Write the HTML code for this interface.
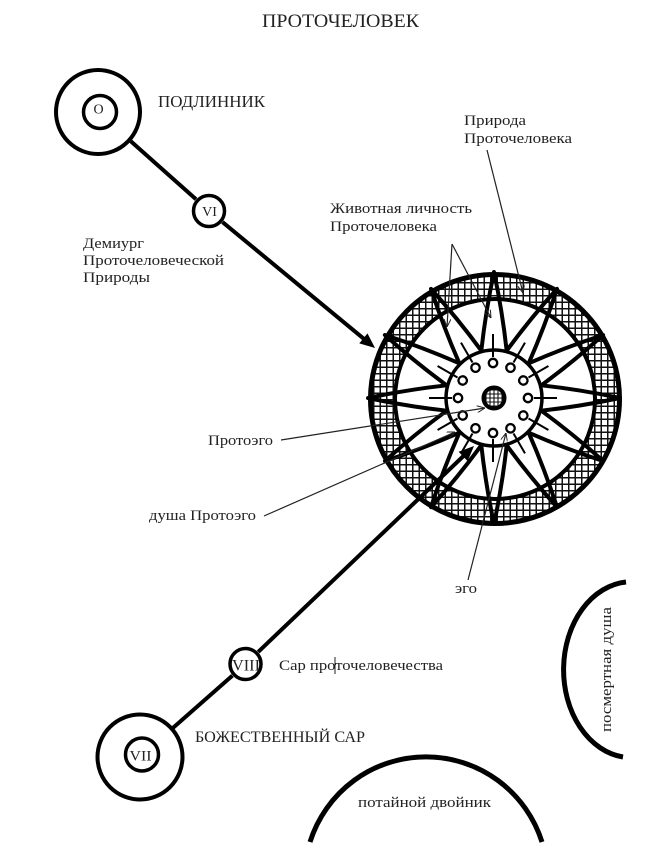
<!DOCTYPE html>
<html><head><meta charset="utf-8">
<style>html,body{margin:0;padding:0;background:#fff;}svg{display:block}</style>
</head><body>
<svg width="659" height="855" viewBox="0 0 659 855" xmlns="http://www.w3.org/2000/svg" xmlns:xlink="http://www.w3.org/1999/xlink" font-family="'Liberation Serif','DejaVu Serif',serif">
<defs>
  <pattern id="g" width="6.5" height="6.5" patternUnits="userSpaceOnUse">
    <rect width="6.5" height="6.5" fill="#fff"/>
    <path d="M0,3.25 H6.5 M3.25,0 V6.5" stroke="#111" stroke-width="1.5"/>
  </pattern>
  <pattern id="g2" width="4" height="4" patternUnits="userSpaceOnUse">
    <rect width="4" height="4" fill="#fff"/>
    <path d="M0,2 H4 M2,0 V4" stroke="#111" stroke-width="1.1"/>
  </pattern>
  <marker id="a" viewBox="0 0 8 7" refX="8" refY="3.5" markerWidth="8" markerHeight="7" markerUnits="userSpaceOnUse" orient="auto">
    <path d="M0,0 L8,3.5 L0,7" fill="none" stroke="#222" stroke-width="1"/>
  </marker>
  <path id="sp" d="M47.33,-12.68 Q87,-8.3 126,0 Q87,8.3 47.33,12.68" fill="none" stroke="#000" stroke-width="4" stroke-linejoin="round"/>
  <g id="dot">
    <line x1="41" y1="0" x2="64" y2="0" stroke="#000" stroke-width="2"/>
    <circle cx="35" cy="0" r="4.2" fill="#fff" stroke="#000" stroke-width="2.3"/>
  </g>
</defs>

<rect width="659" height="855" fill="#fff"/>

<!-- Title -->
<text x="262" y="27" font-size="19" fill="#222" textLength="157" lengthAdjust="spacingAndGlyphs">ПРОТОЧЕЛОВЕК</text>

<!-- O circle -->
<circle cx="98" cy="112" r="42" fill="none" stroke="#000" stroke-width="4"/>
<circle cx="100" cy="112" r="16.5" fill="none" stroke="#000" stroke-width="3.5"/>
<text x="98.5" y="113.5" font-size="14" fill="#222" text-anchor="middle">O</text>
<text x="158" y="107" font-size="16.5" fill="#222" textLength="107" lengthAdjust="spacingAndGlyphs">ПОДЛИННИК</text>

<!-- connectors upper -->
<line x1="130.8" y1="141.3" x2="196" y2="199.3" stroke="#000" stroke-width="4"/>
<circle cx="209" cy="211" r="15.5" fill="none" stroke="#000" stroke-width="3.5"/>
<text x="209.5" y="216" font-size="14" fill="#222" text-anchor="middle">VI</text>
<line x1="222.5" y1="222.1" x2="364" y2="338.9" stroke="#000" stroke-width="4"/>

<!-- Demiurg text -->
<text x="83" y="248" font-size="14.5" fill="#222" textLength="61" lengthAdjust="spacingAndGlyphs">Демиург</text>
<text x="83" y="265" font-size="14.5" fill="#222" textLength="141" lengthAdjust="spacingAndGlyphs">Проточеловеческой</text>
<text x="83" y="282" font-size="14.5" fill="#222" textLength="67" lengthAdjust="spacingAndGlyphs">Природы</text>

<!-- Upper right labels -->
<text x="464" y="125" font-size="14.5" fill="#222" textLength="62" lengthAdjust="spacingAndGlyphs">Природа</text>
<text x="464" y="143" font-size="14.5" fill="#222" textLength="108" lengthAdjust="spacingAndGlyphs">Проточеловека</text>
<text x="330" y="213" font-size="14.5" fill="#222" textLength="142" lengthAdjust="spacingAndGlyphs">Животная личность</text>
<text x="330" y="231" font-size="14.5" fill="#222" textLength="107" lengthAdjust="spacingAndGlyphs">Проточеловека</text>

<!-- WHEEL -->
<path d="M371,399 a124,124 0 1,0 248,0 a124,124 0 1,0 -248,0 Z M395,399 a100,100 0 1,0 200,0 a100,100 0 1,0 -200,0 Z" fill="url(#g)" fill-rule="evenodd"/>
<circle cx="495" cy="399" r="124.5" fill="none" stroke="#000" stroke-width="5"/>
<circle cx="495" cy="399" r="100" fill="none" stroke="#000" stroke-width="4"/>

<g transform="translate(494,398)">
  <use xlink:href="#sp" href="#sp"/>
  <use xlink:href="#sp" href="#sp" transform="rotate(30)"/>
  <use xlink:href="#sp" href="#sp" transform="rotate(60)"/>
  <use xlink:href="#sp" href="#sp" transform="rotate(90)"/>
  <use xlink:href="#sp" href="#sp" transform="rotate(120)"/>
  <use xlink:href="#sp" href="#sp" transform="rotate(150)"/>
  <use xlink:href="#sp" href="#sp" transform="rotate(180)"/>
  <use xlink:href="#sp" href="#sp" transform="rotate(210)"/>
  <use xlink:href="#sp" href="#sp" transform="rotate(240)"/>
  <use xlink:href="#sp" href="#sp" transform="rotate(270)"/>
  <use xlink:href="#sp" href="#sp" transform="rotate(300)"/>
  <use xlink:href="#sp" href="#sp" transform="rotate(330)"/>
  <circle cx="0" cy="0" r="48" fill="#fff" stroke="#000" stroke-width="3.5"/>
</g>
<g transform="translate(493,398)">
  <use xlink:href="#dot" href="#dot"/>
  <use xlink:href="#dot" href="#dot" transform="rotate(30)"/>
  <use xlink:href="#dot" href="#dot" transform="rotate(60)"/>
  <use xlink:href="#dot" href="#dot" transform="rotate(90)"/>
  <use xlink:href="#dot" href="#dot" transform="rotate(120)"/>
  <use xlink:href="#dot" href="#dot" transform="rotate(150)"/>
  <use xlink:href="#dot" href="#dot" transform="rotate(180)"/>
  <use xlink:href="#dot" href="#dot" transform="rotate(210)"/>
  <use xlink:href="#dot" href="#dot" transform="rotate(240)"/>
  <use xlink:href="#dot" href="#dot" transform="rotate(270)"/>
  <use xlink:href="#dot" href="#dot" transform="rotate(300)"/>
  <use xlink:href="#dot" href="#dot" transform="rotate(330)"/>
</g>
<circle cx="494" cy="398" r="10.5" fill="url(#g2)" stroke="#000" stroke-width="4"/>

<!-- big arrowheads -->
<polygon points="375,348 359.3,343.4 367.5,333.4" fill="#000"/>

<!-- annotation lines -->
<g stroke="#222" stroke-width="1.2" fill="none">
  <line x1="487" y1="150" x2="523" y2="293" marker-end="url(#a)"/>
  <line x1="452" y1="244" x2="447" y2="327" marker-end="url(#a)"/>
  <line x1="452" y1="244" x2="491" y2="318" marker-end="url(#a)"/>
  <line x1="281" y1="440" x2="485" y2="408" marker-end="url(#a)"/>
  <line x1="264" y1="516" x2="455" y2="432" marker-end="url(#a)"/>
  <line x1="468" y1="580" x2="506" y2="433" marker-end="url(#a)"/>
</g>

<text x="208" y="445" font-size="14.5" fill="#222" textLength="65" lengthAdjust="spacingAndGlyphs">Протоэго</text>
<text x="149" y="520" font-size="14.5" fill="#222" textLength="107" lengthAdjust="spacingAndGlyphs">душа Протоэго</text>
<text x="455" y="593" font-size="14.5" fill="#222" textLength="22" lengthAdjust="spacingAndGlyphs">эго</text>

<!-- lower connectors -->
<line x1="258.2" y1="651.9" x2="463.5" y2="456" stroke="#000" stroke-width="4"/>
<polygon points="474,446 467.6,461.1 458.6,451.7" fill="#000"/>
<circle cx="245.5" cy="664" r="15.5" fill="none" stroke="#000" stroke-width="3.5"/>
<text x="246" y="670.5" font-size="16" fill="#222" text-anchor="middle" textLength="28" lengthAdjust="spacingAndGlyphs">VIII</text>
<line x1="173" y1="727.9" x2="232.4" y2="675.6" stroke="#000" stroke-width="4"/>
<text x="279" y="670" font-size="14.5" fill="#222" textLength="164" lengthAdjust="spacingAndGlyphs">Сар проточеловечества</text>
<line x1="335" y1="657" x2="335" y2="674" stroke="#222" stroke-width="1"/>

<circle cx="140" cy="757" r="42.5" fill="none" stroke="#000" stroke-width="4"/>
<circle cx="142" cy="754.5" r="16.5" fill="none" stroke="#000" stroke-width="3.5"/>
<text x="140.5" y="760.5" font-size="15" fill="#222" text-anchor="middle" textLength="22" lengthAdjust="spacingAndGlyphs">VII</text>
<text x="195" y="742" font-size="16" fill="#222" textLength="170" lengthAdjust="spacingAndGlyphs">БОЖЕСТВЕННЫЙ САР</text>

<!-- arcs -->
<path d="M310,842 A121.6,121.6 0 0 1 542,842" fill="none" stroke="#000" stroke-width="5"/>
<text x="358" y="807" font-size="14.5" fill="#222" textLength="133" lengthAdjust="spacingAndGlyphs">потайной двойник</text>

<path d="M626,582 A68,88 0 0 0 623,757" fill="none" stroke="#000" stroke-width="5"/>
<text transform="translate(611,732) rotate(-90)" x="0" y="0" font-size="14.5" fill="#222" textLength="125" lengthAdjust="spacingAndGlyphs">посмертная душа</text>

</svg>
</body></html>
